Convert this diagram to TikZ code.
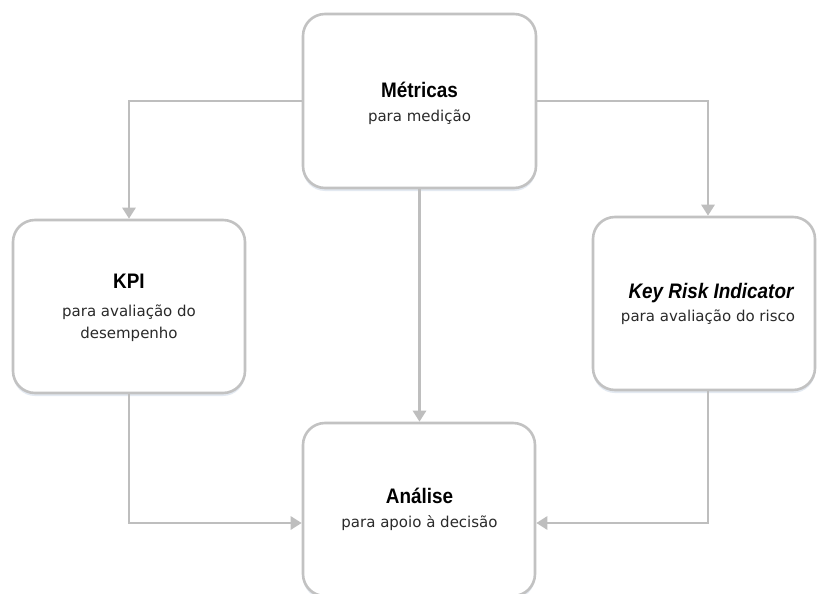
\documentclass[tikz,border=0pt]{standalone}
\usepackage{fontspec}
\setmainfont{DejaVu Sans}
\newfontfamily\titlefont[FakeStretch=0.9]{Liberation Sans}
\usetikzlibrary{arrows.meta,shadows,calc}

\definecolor{boxline}{HTML}{C2C2C2}
\definecolor{connline}{HTML}{BEBEBE}
\definecolor{shadowc}{HTML}{DCE4EE}
\definecolor{subtext}{HTML}{2A2A2A}

\tikzset{
  card/.style={draw=boxline, line width=2.6pt, rounded corners=22pt, fill=white,
    inner sep=0pt,
    drop shadow={shadow xshift=0pt, shadow yshift=-3pt, fill=shadowc, opacity=0.8}},
  conn/.style={draw=connline, line width=2.8pt,
    -{Triangle[width=13pt,length=11pt]}},
  heading/.style={anchor=base, inner sep=0pt, text=black,
    font=\titlefont\bfseries\fontsize{21}{24}\selectfont},
  subline/.style={anchor=base, inner sep=0pt, text=subtext,
    font=\fontsize{15}{22}\selectfont}
}

\begin{document}
\begin{tikzpicture}[x=1pt,y=-1pt]
  \useasboundingbox[fill=white] (0,0) rectangle (817,594);

  % cards
  \node[card, minimum width=233pt, minimum height=174pt] (met) at (419.5,101) {};
  \node[card, minimum width=232pt, minimum height=173pt] (kpi) at (129,306.5) {};
  \node[card, minimum width=222pt, minimum height=173pt] (kri) at (704,303.5) {};
  \node[card, minimum width=232pt, minimum height=173pt] (ana) at (419,509.5) {};

  % card texts
  \node[heading] (met-t) at (419.5,97.7) {Métricas};
  \node[subline] (met-s) at (419.5,121.7) {para medição};

  \node[heading] (kpi-t) at (129,288) {KPI};
  \node[subline] (kpi-s1) at (129,316) {para avaliação do};
  \node[subline] (kpi-s2) at (129,338) {desempenho};

  \node[heading, font=\titlefont\bfseries\itshape\fontsize{21}{24}\selectfont]
    (kri-t) at (711,298.3) {Key Risk Indicator};
  \node[subline] (kri-s) at (708,321.7) {para avaliação do risco};

  \node[heading] (ana-t) at (419.5,503) {Análise};
  \node[subline] (ana-s) at (419.5,527.3) {para apoio à decisão};

  % connectors
  \coordinate (kri-top) at ($(kri.north)+(4,0)$);
  \coordinate (kri-bot) at ($(kri.south)+(4,0)$);
  \coordinate (ana-in-l) at ($(ana.west)+(0,13.5)$);
  \coordinate (ana-in-r) at ($(ana.east)+(0,13.5)$);

  \draw[conn] (met.west) -| (kpi.north);
  \draw[conn] (met.east) -| (kri-top);
  \draw[conn] (met.south) -- (met.south |- ana.north);
  \draw[conn] (kpi.south) |- (ana-in-l);
  \draw[conn] (kri-bot) |- (ana-in-r);
\end{tikzpicture}
\end{document}
